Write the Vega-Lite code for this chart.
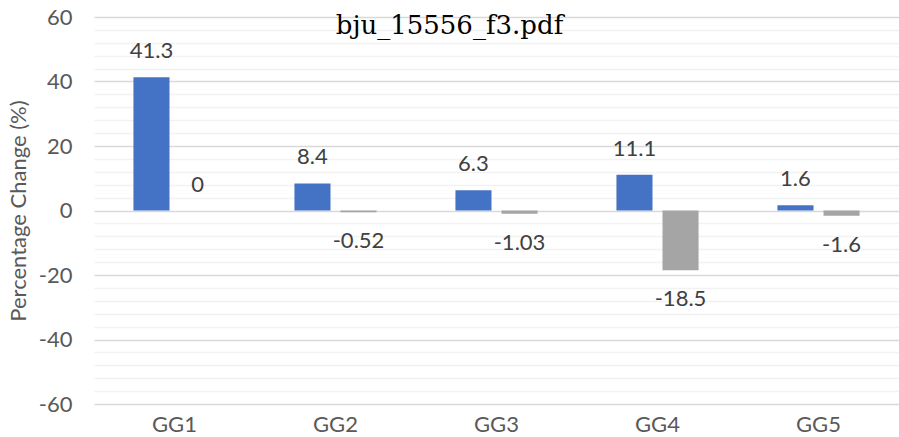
{
  "$schema": "https://vega.github.io/schema/vega-lite/v6.json",
  "width": 805,
  "height": 387,
  "autosize": "none",
  "padding": {"left": 94, "top": 17, "right": 0, "bottom": 33},
  "background": "white",
  "config": {"view": {"stroke": null}, "font": "Lato"},
  "title": {
    "text": "bju_15556_f3.pdf",
    "font": "DejaVu Serif",
    "fontSize": 26,
    "fontWeight": "normal",
    "color": "#000000",
    "anchor": "middle",
    "dx": -47,
    "dy": 3,
    "offset": -30
  },
  "data": {
    "values": [
      {"group": "GG1", "series": "Series1", "value": 41.3},
      {"group": "GG1", "series": "Series2", "value": 0},
      {"group": "GG2", "series": "Series1", "value": 8.4},
      {"group": "GG2", "series": "Series2", "value": -0.52},
      {"group": "GG3", "series": "Series1", "value": 6.3},
      {"group": "GG3", "series": "Series2", "value": -1.03},
      {"group": "GG4", "series": "Series1", "value": 11.1},
      {"group": "GG4", "series": "Series2", "value": -18.5},
      {"group": "GG5", "series": "Series1", "value": 1.6},
      {"group": "GG5", "series": "Series2", "value": -1.6}
    ]
  },
  "encoding": {
    "x": {
      "field": "group",
      "type": "nominal",
      "sort": null,
      "scale": {"paddingInner": 0.49, "paddingOuter": 0.245},
      "axis": {
        "title": null,
        "labelAngle": 0,
        "domain": false,
        "ticks": false,
        "grid": false,
        "labelFontSize": 22,
        "labelColor": "#595959",
        "labelPadding": 10
      }
    },
    "xOffset": {
      "field": "series",
      "type": "nominal",
      "sort": ["Series1", "Series2"],
      "scale": {"paddingInner": 0.217, "paddingOuter": 0}
    },
    "y": {
      "field": "value",
      "type": "quantitative",
      "scale": {"domain": [-60, 60], "nice": false, "zero": false},
      "axis": {
        "title": "Percentage Change (%)",
        "values": [-60, -56, -52, -48, -44, -40, -36, -32, -28, -24, -20, -16, -12, -8, -4, 0, 4, 8, 12, 16, 20, 24, 28, 32, 36, 40, 44, 48, 52, 56, 60],
        "labelExpr": "datum.value % 20 === 0 ? '' + datum.value : ''",
        "gridColor": {"condition": {"test": "datum.value % 20 === 0", "value": "#D9D9D9"}, "value": "#F2F2F2"},
        "gridWidth": 1.3,
        "domain": false,
        "ticks": false,
        "labelFontSize": 22,
        "labelColor": "#595959",
        "labelPadding": 22,
        "titleFontSize": 22,
        "titleColor": "#595959",
        "titleFontWeight": "normal",
        "titlePadding": 8
      }
    }
  },
  "layer": [
    {
      "mark": {"type": "bar"},
      "encoding": {
        "color": {
          "field": "series",
          "type": "nominal",
          "scale": {"domain": ["Series1", "Series2"], "range": ["#4472C4", "#A5A5A5"]},
          "legend": null
        }
      }
    },
    {
      "transform": [{"filter": "datum.value >= 0"}],
      "mark": {"type": "text", "dy": -26, "fontSize": 22, "color": "#404040", "baseline": "middle"},
      "encoding": {"text": {"field": "value", "type": "nominal"}}
    },
    {
      "transform": [{"filter": "datum.value < 0"}],
      "mark": {"type": "text", "dy": 29, "fontSize": 22, "color": "#404040", "baseline": "middle"},
      "encoding": {"text": {"field": "value", "type": "nominal"}}
    }
  ]
}
